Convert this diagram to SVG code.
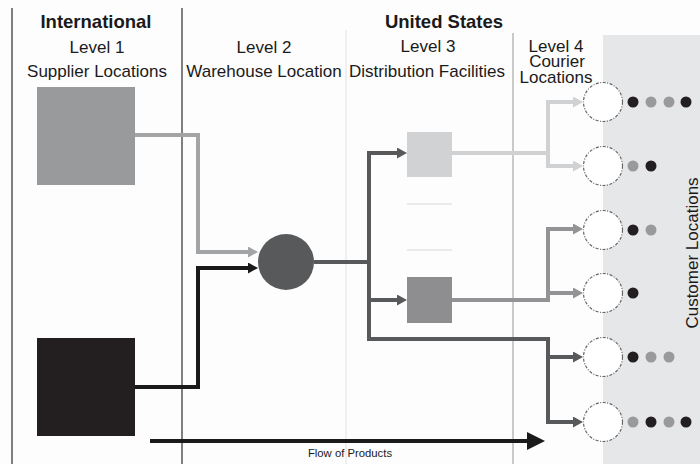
<svg xmlns="http://www.w3.org/2000/svg" width="700" height="464" viewBox="0 0 700 464">
<style>
.t{font-family:"Liberation Sans",Arial,sans-serif;font-size:17px;fill:#1a1a1a;text-anchor:middle}
.b{font-weight:bold;font-size:18.5px}
.s{font-size:11.3px}
.c{fill:none;stroke-linejoin:miter;stroke-linecap:butt;stroke-width:4}
.cour{fill:#fff;stroke:#666;stroke-width:1.2;stroke-dasharray:3 1.5 1 1.5}
.dk{fill:#231f20}.gy{fill:#9a9a9c}
</style>
<defs>
<marker id="aD" markerUnits="userSpaceOnUse" viewBox="0 0 10 11" markerWidth="10" markerHeight="11" refX="0" refY="5.5" orient="auto"><path d="M0 0L10 5.5L0 11Z" fill="#58595b"/></marker>
<marker id="aM" markerUnits="userSpaceOnUse" viewBox="0 0 10 11" markerWidth="10" markerHeight="11" refX="0" refY="5.5" orient="auto"><path d="M0 0L10 5.5L0 11Z" fill="#939395"/></marker>
<marker id="aL" markerUnits="userSpaceOnUse" viewBox="0 0 10 11" markerWidth="10" markerHeight="11" refX="0" refY="5.5" orient="auto"><path d="M0 0L10 5.5L0 11Z" fill="#d0d1d3"/></marker>
<marker id="aS" markerUnits="userSpaceOnUse" viewBox="0 0 10 11" markerWidth="10" markerHeight="11" refX="0" refY="5.5" orient="auto"><path d="M0 0L10 5.5L0 11Z" fill="#a3a4a6"/></marker>
<marker id="aB" markerUnits="userSpaceOnUse" viewBox="0 0 10 11" markerWidth="10" markerHeight="11" refX="0" refY="5.5" orient="auto"><path d="M0 0L10 5.5L0 11Z" fill="#1a1a1a"/></marker>
<marker id="aF" markerUnits="userSpaceOnUse" viewBox="0 0 18 18" markerWidth="18" markerHeight="18" refX="0" refY="9" orient="auto"><path d="M0 0L18 9L0 18Z" fill="#1a1a1a"/></marker>
</defs>
<rect width="700" height="464" fill="#fdfdfd"/>
<rect x="603" y="35" width="97" height="429" fill="#e6e7e8"/>
<g id="dividers" fill="none">
<line x1="12" y1="8" x2="12" y2="464" stroke="#555" stroke-width="1.5"/>
<line x1="182" y1="8" x2="182" y2="464" stroke="#555" stroke-width="1.5"/>
<line x1="346" y1="30" x2="346" y2="464" stroke="#e2e2e2" stroke-width="1"/>
<line x1="513" y1="33" x2="513" y2="464" stroke="#a8a8a8" stroke-width="1.2"/>
</g>
<g id="headers">
<text class="t b" x="96" y="28">International</text>
<text class="t b" x="444" y="28">United States</text>
<text class="t" x="97" y="53">Level 1</text>
<text class="t" x="97" y="77">Supplier Locations</text>
<text class="t" x="264" y="53">Level 2</text>
<text class="t" x="264" y="77">Warehouse Location</text>
<text class="t" x="428" y="52">Level 3</text>
<text class="t" x="427" y="77">Distribution Facilities</text>
<text class="t" x="556" y="52">Level 4</text>
<text class="t" x="557" y="67">Courier</text>
<text class="t" x="556" y="83">Locations</text>
<text class="t" transform="translate(698 253) rotate(-90)">Customer Locations</text>
</g>
<g id="connectors">
<path class="c" stroke="#a3a4a6" d="M135 135H198V252H248" marker-end="url(#aS)"/>
<path class="c" stroke="#1a1a1a" d="M135 387H198V268H248" marker-end="url(#aB)"/>
<path class="c" stroke="#58595b" d="M314 262H369V153H397" marker-end="url(#aD)"/>
<path class="c" stroke="#58595b" d="M369 262V300H397" marker-end="url(#aD)"/>
<path class="c" stroke="#58595b" d="M369 262V339H548V357H573" marker-end="url(#aD)"/>
<path class="c" stroke="#58595b" d="M548 339V422H573" marker-end="url(#aD)"/>
<path class="c" stroke="#d0d1d3" d="M452 153H548V102H573" marker-end="url(#aL)"/>
<path class="c" stroke="#d0d1d3" d="M548 153V166H573" marker-end="url(#aL)"/>
<path class="c" stroke="#939395" d="M452 300H548V229H573" marker-end="url(#aM)"/>
<path class="c" stroke="#939395" d="M548 300V293H573" marker-end="url(#aM)"/>
<path class="c" stroke="#1a1a1a" stroke-width="5" d="M150 441H527" marker-end="url(#aF)"/>
</g>
<g id="supplier1"><rect x="37" y="87" width="98" height="98" fill="#999a9c"/></g>
<g id="supplier2"><rect x="37" y="338" width="98" height="98" fill="#231f20"/></g>
<g id="warehouse"><circle cx="286" cy="262" r="28" fill="#58595b"/></g>
<g id="distribution1"><rect x="407" y="132" width="45" height="45" fill="#d1d2d4"/></g>
<g id="distribution-gap" stroke="#d8d8d8" stroke-width="1.2"><line x1="407" y1="204" x2="452" y2="204"/><line x1="407" y1="250" x2="452" y2="250"/></g>
<g id="distribution2"><rect x="407" y="277" width="45" height="46" fill="#8e8e90"/></g>
<g id="courier1"><circle class="cour" cx="603" cy="102" r="19.5"/><circle class="dk" cx="633" cy="102" r="5.5"/><circle class="gy" cx="651" cy="102" r="5.5"/><circle class="gy" cx="669" cy="102" r="5.5"/><circle class="dk" cx="686" cy="102" r="5.5"/></g>
<g id="courier2"><circle class="cour" cx="603" cy="166" r="19.5"/><circle class="gy" cx="633" cy="166" r="5.5"/><circle class="dk" cx="651" cy="166" r="5.5"/></g>
<g id="courier3"><circle class="cour" cx="603" cy="230" r="19.5"/><circle class="dk" cx="633" cy="230" r="5.5"/><circle class="gy" cx="651" cy="230" r="5.5"/></g>
<g id="courier4"><circle class="cour" cx="603" cy="293" r="19.5"/><circle class="dk" cx="633" cy="293" r="5.5"/></g>
<g id="courier5"><circle class="cour" cx="603" cy="357" r="19.5"/><circle class="dk" cx="633" cy="357" r="5.5"/><circle class="gy" cx="651" cy="357" r="5.5"/><circle class="gy" cx="669" cy="357" r="5.5"/></g>
<g id="courier6"><circle class="cour" cx="603" cy="422" r="19.5"/><circle class="gy" cx="633" cy="422" r="5.5"/><circle class="dk" cx="651" cy="422" r="5.5"/><circle class="gy" cx="669" cy="422" r="5.5"/><circle class="dk" cx="686" cy="422" r="5.5"/></g>
<g id="flow-label"><text class="t s" x="350" y="457">Flow of Products</text></g>
</svg>
